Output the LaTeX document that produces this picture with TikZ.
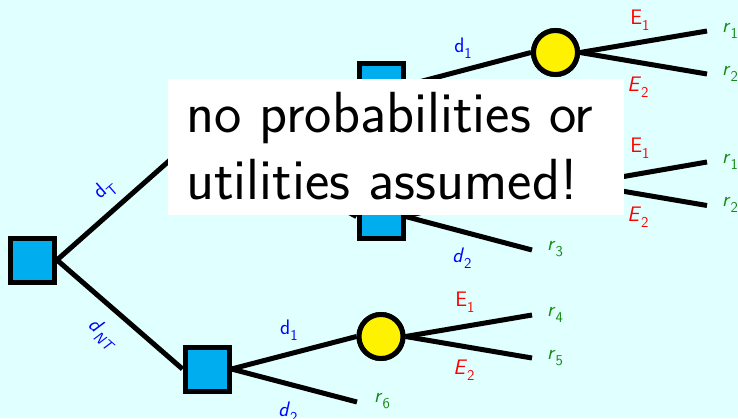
\documentclass[tikz,border=0pt]{standalone}
\usepackage{fontspec}
\renewcommand\familydefault{\sfdefault}
\definecolor{bg}{RGB}{224,255,255}
\definecolor{sqfill}{RGB}{0,174,239}
\definecolor{chfill}{RGB}{255,242,0}
\definecolor{rgreen}{RGB}{20,140,20}
\newcommand\lbsub[1]{\raisebox{-0.28em}{\fontsize{15}{15}\selectfont #1}}
\newcommand\lbup[2]{#1\lbsub{#2}}
\newcommand\lbit[2]{\textit{#1}\lbsub{#2}}
\newcommand\lbitit[2]{\textit{#1}\lbsub{\textit{#2}}}
\tikzset{
  dec/.style={draw=black, line width=5pt, fill=sqfill, minimum size=44pt, inner sep=0pt},
  chance/.style={circle, draw=black, line width=5pt, fill=chfill, minimum size=44pt, inner sep=0pt},
  br/.style={line width=5pt},
  lab/.style={inner sep=0pt, font=\fontsize{21}{21}\selectfont},
  dl/.style={lab, text=blue},
  el/.style={lab, text=red},
  rl/.style={lab, text=rgreen, anchor=west},
  big/.style={inner sep=0pt, anchor=base west, font=\fontsize{58}{67}\selectfont}
}
\begin{document}
\begin{tikzpicture}[x=1pt,y=-1pt]
\useasboundingbox (0,0) rectangle (738,418);
\fill[bg] (0,0) rectangle (738,418);
% nodes
\node[dec] (root) at (32.5,260) {};
\node[chance] (T) at (207,149) {};
\node[dec] (A) at (381,85.5) {};
\node[dec] (B) at (381,216.5) {};
\node[dec] (C) at (207,369) {};
\node[chance] (cA) at (555.5,52.5) {};
\node[chance] (cB) at (556,184) {};
\node[chance] (cC) at (381,336.5) {};
\coordinate (lA1) at (707,31);
\coordinate (lA2) at (707,74);
\coordinate (lB1) at (707,162);
\coordinate (lB2) at (707,205.5);
\coordinate (lB3) at (532,250);
\coordinate (lC1) at (532,315);
\coordinate (lC2) at (532,358);
\coordinate (lC3) at (357,402);
% edges
\draw[br] (root.east) -- (T.west);
\draw[br] (root.east) -- (C.west);
\draw[br] (T.east) -- (A.west);
\draw[br] (T.east) -- (B.west);
\draw[br] (A.east) -- (cA.west);
\draw[br] (B.east) -- (cB.west);
\draw[br] (B.east) -- (lB3);
\draw[br] (cA.east) -- (lA1);
\draw[br] (cA.east) -- (lA2);
\draw[br] (cB.east) -- (lB1);
\draw[br] (cB.east) -- (lB2);
\draw[br] (C.east) -- (cC.west);
\draw[br] (C.east) -- (lC3);
\draw[br] (cC.east) -- (lC1);
\draw[br] (cC.east) -- (lC2);
% redraw nodes on top of edges
\node[dec] at (root) {};
\node[chance] at (T) {};
\node[dec] at (A) {};
\node[dec] at (B) {};
\node[dec] at (C) {};
\node[chance] at (cA) {};
\node[chance] at (cB) {};
\node[chance] at (cC) {};
% labels
\node[dl, rotate=41] (ldT) at (105,190) {\lbup{d}{T}};
\node[dl, rotate=-41] (ldNT) at (103,334) {\lbitit{d}{NT}};
\node[dl] (ldA1) at (463,48) {\lbup{d}{1}};
\node[el] (lEA1) at (640,20) {\lbup{E}{1}};
\node[el] (lEA2) at (638,87) {\lbit{E}{2}};
\node[el] (lEB1) at (640,148) {\lbup{E}{1}};
\node[el] (lEB2) at (638,217) {\lbit{E}{2}};
\node[dl] (ldB2) at (462,258) {\lbit{d}{2}};
\node[el] (lEC1) at (465,302) {\lbup{E}{1}};
\node[el] (lEC2) at (464,370) {\lbit{E}{2}};
\node[dl] (ldC1) at (289,330) {\lbup{d}{1}};
\node[dl] (ldC2) at (288,412) {\lbit{d}{2}};
\node[rl] (r1a) at (722,31) {\lbit{r}{1}};
\node[rl] (r2a) at (722,74) {\lbit{r}{2}};
\node[rl] (r1b) at (722,162) {\lbit{r}{1}};
\node[rl] (r2b) at (722,205) {\lbit{r}{2}};
\node[rl] (r3) at (547,249) {\lbit{r}{3}};
\node[rl] (r4) at (547,315) {\lbit{r}{4}};
\node[rl] (r5) at (547,358) {\lbit{r}{5}};
\node[rl] (r6) at (374,401) {\lbit{r}{6}};
% overlay note
\node[fill=white, inner sep=0pt, minimum width=456pt, minimum height=136pt, anchor=north west] (note) at (168,79) {};
\node[big] (t1) at (186,132) {no probabilities or};
\node[big] (t2) at (186,199) {utilities assumed!};
\end{tikzpicture}
\end{document}
